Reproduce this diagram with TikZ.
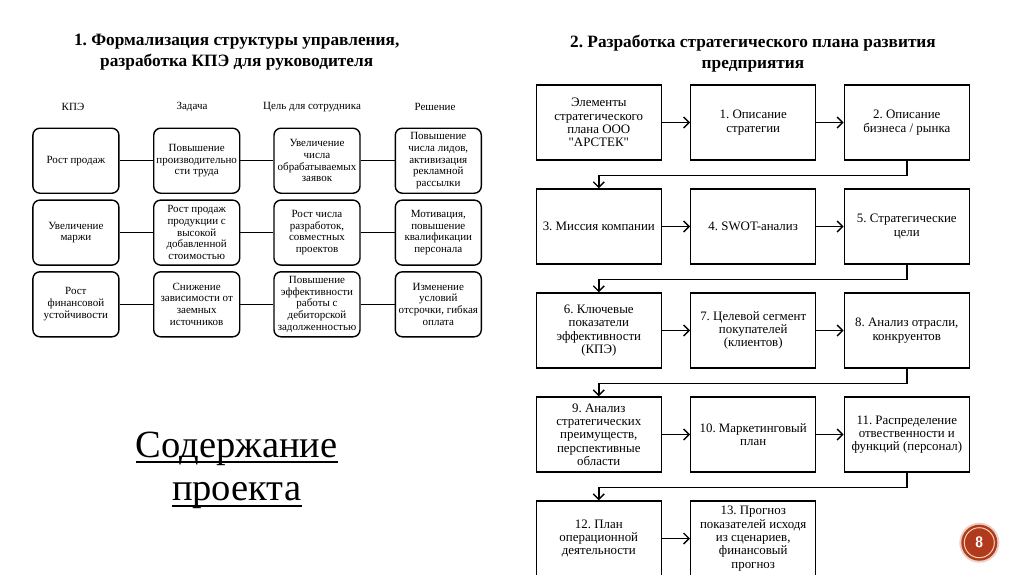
\documentclass[tikz,border=0pt]{standalone}
\usepackage{fontspec}
\setmainfont{Liberation Serif}[Ligatures=TeXOff]
\usetikzlibrary{arrows.meta}
\definecolor{badge}{HTML}{B23A1C}
\definecolor{badgering}{HTML}{F2D4B0}
\frenchspacing
\begin{document}
\begin{tikzpicture}[x=1pt,y=-1pt,
  tbox/.style={draw,line width=1.4pt,rounded corners=7pt,minimum width=86pt,minimum height=65pt,align=center,inner sep=1pt,font=\fontsize{11}{11.8}\selectfont},
  fbox/.style={draw,line width=1.4pt,minimum width=125pt,minimum height=75pt,align=center,inner sep=1pt,font=\fontsize{12.9}{13.3}\selectfont},
  link/.style={line width=1.5pt},
  arr/.style={line width=1.4pt,-{Straight Barb[length=5.5pt,width=11pt]}},
  hdr/.style={font=\fontsize{11}{12}\selectfont},
  ttl/.style={font=\fontsize{17.3}{20.5}\selectfont\bfseries,align=center},
  big/.style={font=\fontsize{38.5}{44}\selectfont,anchor=base,inner sep=0pt}]
\useasboundingbox (0,0) rectangle (1024,574);
\clip (0,0) rectangle (1024,574);
\fill[white] (0,0) rectangle (1024,574);

% titles
\node[ttl] (t1) at (236.7,52) {1. Формализация структуры управления,\\разработка КПЭ для руководителя};
\node[ttl] (t2) at (753,53.5) {2. Разработка стратегического плана развития\\предприятия};

% table headers
\node[hdr] (h1) at (73,107) {КПЭ};
\node[hdr] (h2) at (192,107) {Задача};
\node[hdr] (h3) at (312,107) {Цель для сотрудника};
\node[hdr] (h4) at (435,107) {Решение};

% table boxes
\node[tbox] (a11) at (75.9,160.7) {Рост продаж};
\node[tbox] (a12) at (196.7,160.7) {Повышение\\производительно\\сти труда};
\node[tbox] (a13) at (317,160.7) {Увеличение\\числа\\обрабатываемых\\заявок};
\node[tbox] (a14) at (438.3,160.7) {Повышение\\числа лидов,\\активизация\\рекламной\\рассылки};
\node[tbox] (a21) at (75.9,232.6) {Увеличение\\маржи};
\node[tbox] (a22) at (196.7,232.6) {Рост продаж\\продукции с\\высокой\\добавленной\\стоимостью};
\node[tbox] (a23) at (317,232.6) {Рост числа\\разработок,\\совместных\\проектов};
\node[tbox] (a24) at (438.3,232.6) {Мотивация,\\повышение\\квалификации\\персонала};
\node[tbox] (a31) at (75.9,304.3) {Рост\\финансовой\\устойчивости};
\node[tbox] (a32) at (196.7,304.3) {Снижение\\зависимости от\\заемных\\источников};
\node[tbox] (a33) at (317,304.3) {Повышение\\эффективности\\работы с\\дебиторской\\задолженностью};
\node[tbox] (a34) at (438.3,304.3) {Изменение\\условий\\отсрочки, гибкая\\оплата};
\foreach \r in {1,2,3}{
  \draw[link] (a\r1) -- (a\r2);
  \draw[link] (a\r2) -- (a\r3);
  \draw[link] (a\r3) -- (a\r4);
}

% big text
\node[big] (s1) at (236.7,457) {Содержание};
\node[big] (s2) at (236.7,500) {проекта};
\draw[line width=2pt] ([yshift=-5pt]s1.base west) -- ([yshift=-5pt]s1.base east);
\draw[line width=2pt] ([yshift=-6pt]s2.base west) -- ([yshift=-6pt]s2.base east);

% flowchart
\node[fbox] (b0) at (598.8,122.5) {Элементы\\стратегического\\плана ООО\\"АРСТЕК"};
\node[fbox] (b1) at (753.2,122.5) {1. Описание\\стратегии};
\node[fbox] (b2) at (906.8,122.5) {2. Описание\\бизнеса / рынка};
\node[fbox] (b3) at (598.8,226.5) {3. Миссия компании};
\node[fbox] (b4) at (753.2,226.5) {4. SWOT-анализ};
\node[fbox] (b5) at (906.8,226.5) {5. Стратегические\\цели};
\node[fbox] (b6) at (598.8,330.5) {6. Ключевые\\показатели\\эффективности\\(КПЭ)};
\node[fbox] (b7) at (753.2,330.5) {7. Целевой сегмент\\покупателей\\(клиентов)};
\node[fbox] (b8) at (906.8,330.5) {8. Анализ отрасли,\\конкруентов};
\node[fbox] (b9) at (598.8,434.5) {9. Анализ\\стратегических\\преимуществ,\\перспективные\\области};
\node[fbox] (b10) at (753.2,434.5) {10. Маркетинговый\\план};
\node[fbox] (b11) at (906.8,434.5) {11. Распределение\\отвественности и\\функций (персонал)};
\node[fbox] (b12) at (598.8,538.5) {12. План\\операционной\\деятельности};
\node[fbox] (b13) at (753.2,538.5) {13. Прогноз\\показателей исходя\\из сценариев,\\финансовый\\прогноз};

\foreach \a/\b in {b0/b1,b1/b2,b3/b4,b4/b5,b6/b7,b7/b8,b9/b10,b10/b11,b12/b13}
  \draw[arr] (\a) -- (\b);
\foreach \a/\b in {b2/b3,b5/b6,b8/b9,b11/b12}
  \draw[arr] (\a.south) -- ++(0,15) -| (\b.north);

% page badge
\fill[badge!25] (979.3,542.7) circle (20);
\fill[badge] (979.3,542.7) circle (18);
\draw[badgering,line width=1pt] (979.3,542.7) circle (15);
\node[text=white,font=\fontsize{15}{15}\selectfont\bfseries\sffamily] (pg) at (979.3,542.7) {8};
\end{tikzpicture}
\end{document}
